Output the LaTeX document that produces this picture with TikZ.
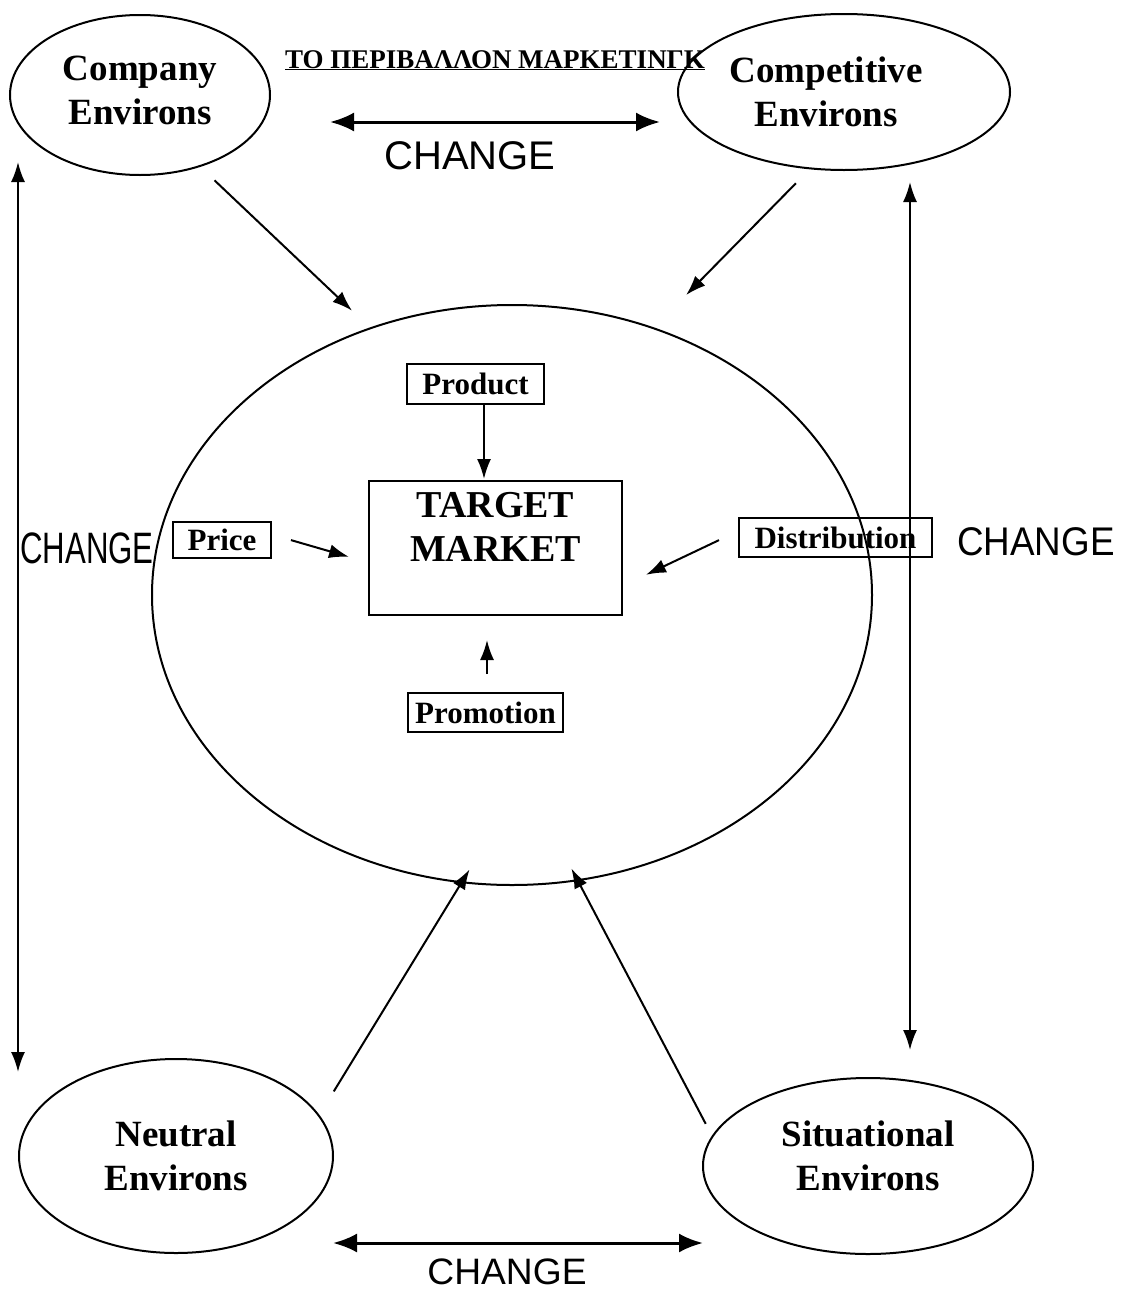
\documentclass[tikz,border=0pt]{standalone}
\usepackage{fontspec}
\setmainfont{Liberation Serif}
\newfontfamily\handfont{Liberation Sans}
\usetikzlibrary{shapes.geometric,arrows.meta}

\begin{document}
\begin{tikzpicture}[x=1pt, y=-1pt, line width=2pt,
	env/.style={ellipse, draw, inner sep=0pt, align=center,
		font=\fontsize{37}{44}\selectfont\bfseries},
	mixbox/.style={draw, inner sep=0pt, font=\fontsize{31}{36}\selectfont\bfseries},
	arr/.style={-{Latex[length=20pt, width=14pt]}},
	dblarr/.style={{Latex[length=24pt, width=19pt]}-{Latex[length=24pt, width=19pt]}, line width=3pt},
	vdblarr/.style={{Latex[length=20pt, width=14pt]}-{Latex[length=20pt, width=14pt]}},
	hand/.style={inner sep=0pt, font=\fontsize{40}{40}\selectfont\handfont}]
	\useasboundingbox (0,0) rectangle (1130,1293);
	
	% environs
	\node[env, minimum width=260pt, minimum height=160pt, text depth=10pt] (company) at (140,95) {Company\\Environs};
	\node[env, minimum width=332pt, minimum height=156pt] (competitive) at (844,92)
		{\hspace*{-36pt}Competitive\\\hspace*{-36pt}Environs};
	\node[env, minimum width=314pt, minimum height=194pt] (neutral) at (176,1156) {Neutral\\Environs};
	\node[env, minimum width=330pt, minimum height=176pt, text depth=20pt] (situational) at (868,1166) {Situational\\Environs};
	
	% big ellipse
	\node[ellipse, draw, inner sep=0pt, minimum width=720pt, minimum height=580pt] (big) at (512,595) {};
	
	% target market and mix
	\node[mixbox, minimum width=253pt, minimum height=134pt, align=center, text depth=43pt,
		font=\fontsize{38}{44}\selectfont\bfseries] (target) at (495.5,548) {TARGET\\MARKET};
	\node[mixbox, minimum width=137pt, minimum height=40pt] (product) at (475.5,384) {Product};
	\node[mixbox, minimum width=98pt, minimum height=36pt] (price) at (222,540) {Price};
	\node[mixbox, minimum width=193pt, minimum height=39pt] (distribution) at (835.5,537.5) {Distribution};
	\node[mixbox, minimum width=155pt, minimum height=39pt] (promotion) at (485.5,712.5) {Promotion};
	
	% title
	\node[font=\fontsize{27}{27}\selectfont\bfseries, anchor=base] (title) at (495,68)
		{\underline{ΤΟ ΠΕΡΙΒΑΛΛΟΝ ΜΑΡΚΕΤΙΝΓΚ}};
	
	% environs into the market
	\draw[arr, shorten <=19.5pt, shorten >=24.5pt] (company.-50.3) -- (big.118.95);
	\draw[arr, shorten <=19.5pt, shorten >=45.5pt] (competitive.-114.8) -- (big.62.8);
	\draw[arr, shorten <=27.5pt, shorten >=-16pt] (neutral.16.3) -- (big.-100.7);
	\draw[arr, shorten <=13.4pt, shorten >=-14.3pt] (situational.169.4) -- (big.-77.8);
	
	% mix into the target
	\draw[arr, shorten >=1pt] ([xshift=8.5pt]product.south) -- ([xshift=-11.5pt]target.north);
	\draw[arr, shorten <=19.75pt, shorten >=19.75pt] ([yshift=5.4pt]price.east) -- ([yshift=-14.4pt]target.west);
	\draw[arr, shorten <=21pt, shorten >=25.4pt] ([yshift=6.4pt]distribution.west) -- ([yshift=-37.7pt]target.east);
	\draw[arr, shorten <=18pt, shorten >=24pt] ([xshift=1.5pt]promotion.north) -- ([xshift=-8.5pt]target.south);
	
	% change arrows
	\coordinate (topL) at (330,122);
	\coordinate (topR) at (660,122);
	\coordinate (leftT) at (18,162);
	\coordinate (leftB) at (18,1072);
	\coordinate (rightT) at (910,182);
	\coordinate (rightB) at (910,1050);
	\coordinate (botL) at (333,1243);
	\coordinate (botR) at (703,1243);
	\draw[dblarr] (topL) -- (topR);
	\draw[dblarr] (botL) -- (botR);
	\draw[vdblarr] (leftT) -- (leftB);
	\draw[vdblarr] (rightT) -- (rightB);
	
	\node[hand] (changetop) at (470,156) {CHANGE};
	\node[hand] (changeleft) at (87,548) {\scalebox{0.78}[1.1]{CHANGE}};
	\node[hand] (changeright) at (1036,542) {\scalebox{0.92}[1]{CHANGE}};
	\node[hand] (changebot) at (507,1272) {\scalebox{0.93}[0.92]{CHANGE}};
\end{tikzpicture}
\end{document}
